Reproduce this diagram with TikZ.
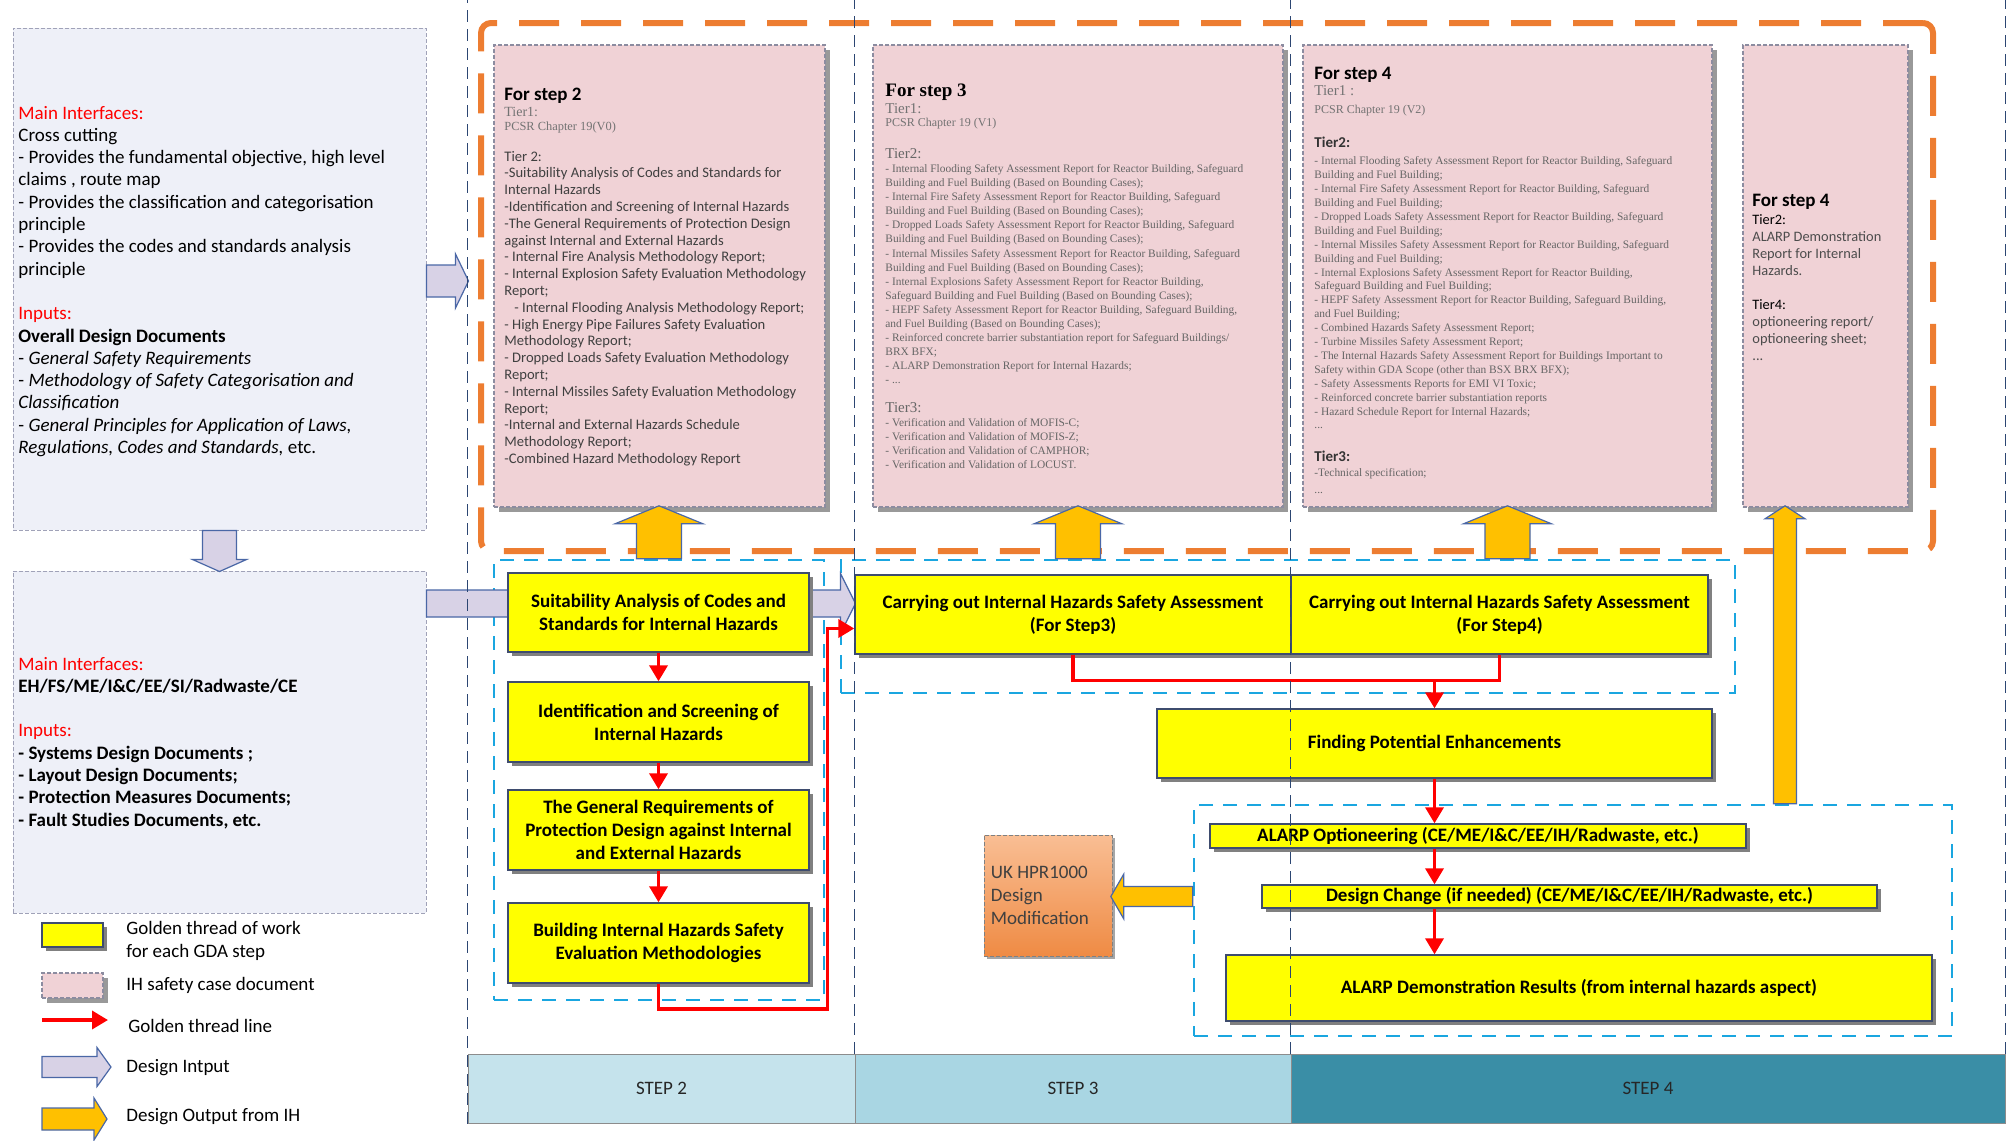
\documentclass[tikz,border=0pt]{standalone}
\usepackage{fontspec}
\setmainfont{Carlito}
\newfontfamily\docserif{Liberation Serif}
\usetikzlibrary{fit,calc,shadows,arrows.meta}

\definecolor{goldyel}{HTML}{FFFF00}
\definecolor{yelline}{HTML}{3E4C6E}
\definecolor{docpink}{HTML}{F0D2D6}
\definecolor{docline}{HTML}{8C8CA0}
\definecolor{inpale}{HTML}{EEF0F8}
\definecolor{inline}{HTML}{A0A2B8}
\definecolor{inlav}{HTML}{D8D2E6}
\definecolor{arrline}{HTML}{4A67A6}
\definecolor{outorange}{HTML}{FFC000}
\definecolor{frameorange}{HTML}{ED7D31}
\definecolor{grpcyan}{HTML}{1AA6E0}
\definecolor{divnavy}{HTML}{2C4672}
\definecolor{stepa}{HTML}{C5E3EC}
\definecolor{stepb}{HTML}{A9D6E3}
\definecolor{stepc}{HTML}{3A8EA6}
\definecolor{ukhi}{HTML}{F9BE94}
\definecolor{uklo}{HTML}{EF8B44}

\tikzset{
  ybox/.style={draw=yelline,line width=0.7pt,fill=goldyel,inner sep=0pt,
    drop shadow={shadow xshift=2pt,shadow yshift=-2pt,fill=black!50,opacity=1}},
  ylab/.style={inner sep=0pt,align=center,font=\fontsize{9.5}{11.5}\selectfont\bfseries},
  docbox/.style={draw=docline,line width=0.6pt,dash pattern=on 2pt off 1pt,fill=docpink,inner sep=0pt,
    drop shadow={shadow xshift=2.5pt,shadow yshift=-2.5pt,fill=black!40,opacity=1}},
  inbox/.style={draw=inline,line width=0.5pt,dash pattern=on 2pt off 1pt,fill=inpale,inner sep=0pt},
  frame/.style={draw=frameorange,line width=3pt,dash pattern=on 20pt off 11pt,rounded corners=5pt,inner sep=0pt},
  grp/.style={draw=grpcyan,line width=1.2pt,dash pattern=on 7pt off 5pt,inner sep=0pt},
  gold/.style={draw=red,line width=1.8pt,-{Triangle[length=8pt,width=9pt]}},
  inarr/.style={fill=inlav,draw=arrline,line width=0.6pt},
  outarr/.style={fill=outorange,draw=arrline,line width=0.6pt},
  divider/.style={draw=divnavy,line width=0.8pt,dash pattern=on 6pt off 3.5pt},
  stepcell/.style={draw=black!45,line width=0.5pt,inner sep=0pt},
  steplab/.style={inner sep=0pt,font=\fontsize{9.5}{11}\selectfont,text=black!85},
  txt/.style={inner sep=0pt,align=left,anchor=north west},
  head/.style={inner sep=0pt,anchor=base west},
  legtxt/.style={inner sep=0pt,align=left,anchor=west,font=\fontsize{9.5}{11.5}\selectfont}
}

% style, tail, angle, length, shaft half width, head half width, head length
\newcommand\blockarrow[7]{\draw[#1,shift={#2},rotate=#3] (0,-#5) -- (#4-#7,-#5) -- (#4-#7,-#6) -- (#4,0) -- (#4-#7,#6) -- (#4-#7,#5) -- (0,#5) -- cycle;}

\begin{document}
\begin{tikzpicture}[x=0.5pt,y=-0.5pt]
\useasboundingbox (0,0) rectangle (2011,1140);
\coordinate (ceil) at (0,0);

% design inputs
\node[inbox,fit={(13,28) (426,530)}] (left1) {};
\node[inbox,fit={(13,571) (426,913)}] (left2) {};
\node[txt,font=\fontsize{9.5}{11.15}\selectfont] (left1txt) at (18,103) {\strut\textcolor{red}{Main Interfaces:}\\
Cross cutting\\
- Provides the fundamental objective, high level\\
claims , route map\\
- Provides the classification and categorisation\\
principle\\
- Provides the codes and standards analysis\\
principle\\[11.15pt]
\textcolor{red}{Inputs:}\\
\textbf{Overall Design Documents}\\
- \textit{General Safety Requirements}\\
- \textit{Methodology of Safety Categorisation and}\\
\textit{Classification}\\
- \textit{General Principles for Application of Laws,}\\
\textit{Regulations, Codes and Standards,} etc.};
\node[txt,font=\fontsize{9.5}{11.15}\selectfont] (left2txt) at (18,654) {\strut\textcolor{red}{Main Interfaces:}\\
\textbf{EH/FS/ME/I\&C/EE/SI/Radwaste/CE}\\[11.15pt]
\textcolor{red}{Inputs:}\\
\textbf{- Systems Design Documents ;}\\
\textbf{- Layout Design Documents;}\\
\textbf{- Protection Measures Documents;}\\
\textbf{- Fault Studies Documents, etc.}};

% IH safety case documents
\node[frame,fit={(481,23) (1933,551)}] (docframe) {};
\node[docbox,fit={(494,45) (825,507)}] (doc2) {};
\node[docbox,fit={(873,45) (1283,507)}] (doc3) {};
\node[docbox,fit={(1303,45) (1712,507)}] (doc4) {};
\node[docbox,fit={(1743,45) (1908,507)}] (doc4b) {};

\node[head,font=\fontsize{9.5}{11}\selectfont\bfseries] (doc2h) at (504,100) {For step 2};
\node[head,font=\docserif\fontsize{7}{8}\selectfont,text=black!55] (doc2t1) at (504,116) {Tier1:};
\node[head,font=\docserif\fontsize{6.2}{7}\selectfont,text=black!55] (doc2v) at (504,130) {PCSR Chapter 19(V0)};
\node[txt,font=\fontsize{7.3}{8.4}\selectfont,text=black!75] (doc2txt) at (504,149) {\strut Tier 2:\\
-Suitability Analysis of Codes and Standards for\\
Internal Hazards\\
-Identification and Screening of Internal Hazards\\
-The General Requirements of Protection Design\\
against Internal and External Hazards\\
- Internal Fire Analysis Methodology Report;\\
- Internal Explosion Safety Evaluation Methodology\\
Report;\\
\hspace{5pt}- Internal Flooding Analysis Methodology Report;\\
- High Energy Pipe Failures Safety Evaluation\\
Methodology Report;\\
- Dropped Loads Safety Evaluation Methodology\\
Report;\\
- Internal Missiles Safety Evaluation Methodology\\
Report;\\
-Internal and External Hazards Schedule\\
Methodology Report;\\
-Combined Hazard Methodology Report};

\node[head,font=\docserif\fontsize{9.5}{11}\selectfont\bfseries] (doc3h) at (885,96) {For step 3};
\node[head,font=\docserif\fontsize{7.5}{8}\selectfont,text=black!55] (doc3t1) at (885,113) {Tier1:};
\node[head,font=\docserif\fontsize{6}{7}\selectfont,text=black!55] (doc3v) at (885,126) {PCSR Chapter 19 (V1)};
\node[txt,font=\docserif\fontsize{5.7}{7.05}\selectfont,text=black!60] (doc3txt) at (885,148) {\strut{\fontsize{7.5}{7.05}\selectfont Tier2:}\\
- Internal Flooding Safety Assessment Report for Reactor Building, Safeguard\\
Building and Fuel Building (Based on Bounding Cases);\\
- Internal Fire Safety Assessment Report for Reactor Building, Safeguard\\
Building and Fuel Building (Based on Bounding Cases);\\
- Dropped Loads Safety Assessment Report for Reactor Building, Safeguard\\
Building and Fuel Building (Based on Bounding Cases);\\
- Internal Missiles Safety Assessment Report for Reactor Building, Safeguard\\
Building and Fuel Building (Based on Bounding Cases);\\
- Internal Explosions Safety Assessment Report for Reactor Building,\\
Safeguard Building and Fuel Building (Based on Bounding Cases);\\
- HEPF Safety Assessment Report for Reactor Building, Safeguard Building,\\
and Fuel Building (Based on Bounding Cases);\\
- Reinforced concrete barrier substantiation report for Safeguard Buildings/\\
BRX BFX;\\
- ALARP Demonstration Report for Internal Hazards;\\
- ...\\[7.05pt]
{\fontsize{7.5}{7.05}\selectfont Tier3:}\\
- Verification and Validation of MOFIS-C;\\
- Verification and Validation of MOFIS-Z;\\
- Verification and Validation of CAMPHOR;\\
- Verification and Validation of LOCUST.};

\node[head,font=\fontsize{9.5}{11}\selectfont\bfseries] (doc4h) at (1314,79) {For step 4};
\node[head,font=\docserif\fontsize{7.5}{8}\selectfont,text=black!55] (doc4t1) at (1314,95) {Tier1 :};
\node[head,font=\docserif\fontsize{6}{7}\selectfont,text=black!55] (doc4v) at (1314,113) {PCSR Chapter 19 (V2)};
\node[txt,font=\docserif\fontsize{5.7}{6.95}\selectfont,text=black!60] (doc4txt) at (1314,137) {\strut{\rmfamily\bfseries\fontsize{7.5}{6.95}\selectfont\color{black!80}Tier2:}\\[1.5pt]
- Internal Flooding Safety Assessment Report for Reactor Building, Safeguard\\
Building and Fuel Building;\\
- Internal Fire Safety Assessment Report for Reactor Building, Safeguard\\
Building and Fuel Building;\\
- Dropped Loads Safety Assessment Report for Reactor Building, Safeguard\\
Building and Fuel Building;\\
- Internal Missiles Safety Assessment Report for Reactor Building, Safeguard\\
Building and Fuel Building;\\
- Internal Explosions Safety Assessment Report for Reactor Building,\\
Safeguard Building and Fuel Building;\\
- HEPF Safety Assessment Report for Reactor Building, Safeguard Building,\\
and Fuel Building;\\
- Combined Hazards Safety Assessment Report;\\
- Turbine Missiles Safety Assessment Report;\\
- The Internal Hazards Safety Assessment Report for Buildings Important to\\
Safety within GDA Scope (other than BSX BRX BFX);\\
- Safety Assessments Reports for EMI VI Toxic;\\
- Reinforced concrete barrier substantiation reports\\
- Hazard Schedule Report for Internal Hazards;\\
...};
\node[txt,font=\docserif\fontsize{5.7}{7.5}\selectfont,text=black!60] (doc4tier3) at (1314,451) {\strut{\rmfamily\bfseries\fontsize{7.5}{7.5}\selectfont\color{black!80}Tier3:}\\
-Technical specification;\\[1pt]
...};

\node[head,font=\fontsize{9.5}{11}\selectfont\bfseries] (doc4bh) at (1752,206) {For step 4};
\node[txt,font=\fontsize{7.2}{8.5}\selectfont,text=black!70] (doc4btxt) at (1752,212) {\strut{\color{black}Tier2:}\\
ALARP Demonstration\\
Report for Internal\\
Hazards.\\[8.5pt]
{\color{black}Tier4:}\\
optioneering report/\\
optioneering sheet;\\
...};

% golden thread groups
\node[grp,fit={(494,560) (824,1000)}] (grp2) {};
\node[grp,fit={(841,560) (1735,693)}] (grp34) {};
\node[grp,fit={(1194,805) (1952,1036)}] (grpal) {};

% design input arrows
\blockarrow{inarr}{($(left1.east)+(0,2)$)}{0}{42}{16}{27}{13}
\blockarrow{inarr}{(left1.south)}{-90}{41}{17}{27}{12}
\blockarrow{inarr}{($(left2.east)+(0,-138.5)$)}{0}{429}{13.5}{30}{15}

% golden thread of work
\node[ybox,fit={(508,573) (809,652)},label={[ylab]center:{Suitability Analysis of Codes and\\Standards for Internal Hazards}}] (suit) {};
\node[ybox,fit={(508,682) (809,762)},label={[ylab]center:{Identification and Screening of\\Internal Hazards}}] (ident) {};
\node[ybox,fit={(508,790) (809,870)},label={[ylab]center:{The General Requirements of\\Protection Design against Internal\\and External Hazards}}] (genreq) {};
\node[ybox,fit={(508,903) (809,983)},label={[ylab]center:{Building Internal Hazards Safety\\Evaluation Methodologies}}] (build) {};
\node[ybox,fit={(855,575) (1291,654)},label={[ylab]center:{Carrying out Internal Hazards Safety Assessment\\(For Step3)}}] (carry3) {};
\node[ybox,fit={(1291,575) (1708,654)},label={[ylab]center:{Carrying out Internal Hazards Safety Assessment\\(For Step4)}}] (carry4) {};
\node[ybox,fit={(1157,709) (1712,778)},label={[ylab]center:{Finding Potential Enhancements}}] (finding) {};
\node[ybox,fit={(1210,824) (1746,848)},label={[ylab]center:{ALARP Optioneering (CE/ME/I\&C/EE/IH/Radwaste, etc.)}}] (alopt) {};
\node[ybox,fit={(1262,885) (1877,908)},label={[ylab]center:{Design Change (if needed) (CE/ME/I\&C/EE/IH/Radwaste, etc.)}}] (dchg) {};
\node[ybox,fit={(1226,955) (1932,1021)},label={[ylab]center:{ALARP Demonstration Results (from internal hazards aspect)}}] (demo) {};
\node[draw=black!50,line width=0.5pt,dash pattern=on 2pt off 1pt,top color=ukhi,bottom color=uklo,inner sep=0pt,
  drop shadow={shadow xshift=1.5pt,shadow yshift=-1.5pt,fill=black!35,opacity=1},fit={(984,835) (1112,956)}] (ukmod) {};
\node[legtxt,text=black!75] (uktxt) at ($(ukmod.west)+(7,0)$) {UK HPR1000\\Design\\Modification};

\draw[gold] (suit) -- (ident);
\draw[gold] (ident) -- (genreq);
\draw[gold] (genreq) -- (build);
\draw[gold] (build.south) -- ++(0,25) -| ($(carry3.west)+(-27,14)$) -- ($(carry3.west)+(0,14)$);
\coordinate (merge) at ($(finding.north)+(0,-28)$);
\draw[gold,-] (carry3.south) |- (merge) -| (carry4.south);
\draw[gold] (merge) -- (finding.north);
\draw[gold] (finding.south) -- (finding.south |- alopt.north);
\draw[gold] (finding.south |- alopt.south) -- (finding.south |- dchg.north);
\draw[gold] (finding.south |- dchg.south) -- (finding.south |- demo.north);

% design outputs
\blockarrow{outarr}{(grp2.north)}{90}{53}{22.5}{44}{18}
\blockarrow{outarr}{(doc3.south |- grp34.north)}{90}{53}{22.5}{44}{18}
\blockarrow{outarr}{(doc4.south |- grp34.north)}{90}{53}{22.5}{44}{18}
\blockarrow{outarr}{($(grpal.north)+(212,0)$)}{90}{298}{11.5}{20}{13}
\blockarrow{outarr}{(grpal.west |- dchg.center)}{180}{82}{10}{22.5}{13}

% GDA steps
\node[stepcell,fill=stepa,fit={(468,1054) (855,1123)},label={[steplab]center:STEP 2}] (stp2) {};
\node[stepcell,fill=stepb,fit={(855,1054) (1291,1123)},label={[steplab]center:STEP 3}] (stp3) {};
\node[stepcell,fill=stepc,fit={(1291,1054) (2005,1123)},label={[steplab]center:STEP 4}] (stp4) {};
\draw[divider] (stp2.south west) -- (stp2.south west |- ceil);
\draw[divider] (stp3.north west) -- (stp3.north west |- ceil);
\draw[divider] (stp4.north west) -- (stp4.north west |- ceil);
\draw[divider] (stp4.north east) -- (stp4.north east |- ceil);

% legend
\node[ybox,fit={(42,923) (103,947)}] (legy) {};
\node[docbox,fit={(42,973) (103,998)}] (legp) {};
\coordinate (legr) at (42,1020);
\draw[gold] (legr) -- ++(66,0);
\blockarrow{inarr}{(42,1067)}{0}{69}{10.5}{19.5}{14}
\blockarrow{outarr}{(42,1119)}{0}{65}{11}{21}{13}
\node[legtxt] (legyt) at (126,941) {Golden thread of work\\for each GDA step};
\node[legtxt] (legpt) at (126,985) {IH safety case document};
\node[legtxt] (legrt) at (128,1026) {Golden thread line};
\node[legtxt] (legit) at (126,1068) {Design Intput};
\node[legtxt] (legot) at (126,1117) {Design Output from IH};
\end{tikzpicture}
\end{document}
